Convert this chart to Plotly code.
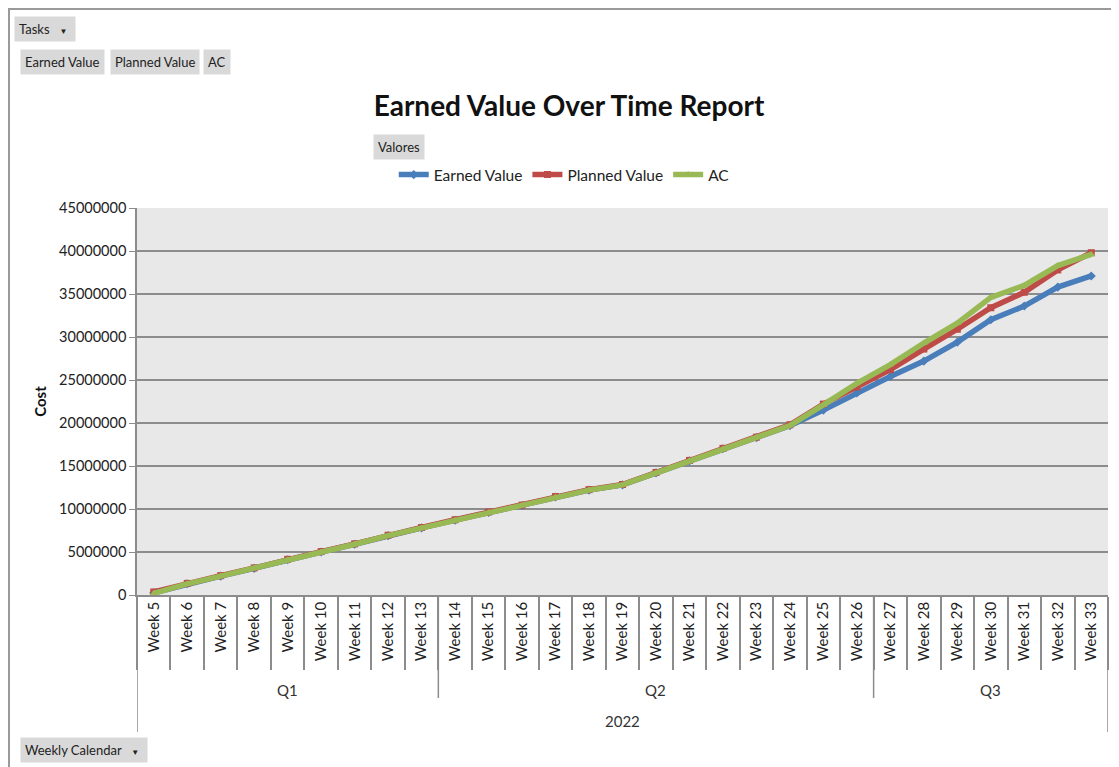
"""
Earned Value Over Time Report - pivot chart recreation
"""

import plotly.graph_objects as go

# ---------------------------
# data
# ---------------------------

weeks = [f"Week {w}" for w in range(5, 34)]

earned_value = [
    0.25, 1.3, 2.2, 3.1, 4.1, 5.0, 5.9, 6.9, 7.8, 8.7,
    9.6, 10.4, 11.4, 12.2, 12.8, 14.2, 15.6, 17.0, 18.3, 19.7,
    21.5, 23.5, 25.4, 27.2, 29.4, 32.0, 33.6, 35.8, 37.1,
]
planned_value = [
    0.35, 1.35, 2.25, 3.15, 4.15, 5.05, 5.95, 6.95, 7.85, 8.75,
    9.65, 10.45, 11.45, 12.25, 12.85, 14.25, 15.65, 17.05, 18.35, 19.8,
    22.2, 24.2, 26.2, 28.6, 30.9, 33.4, 35.2, 37.8, 39.8,
]
actual_cost = [
    0.2, 1.3, 2.2, 3.1, 4.1, 5.0, 5.9, 6.9, 7.8, 8.7,
    9.6, 10.4, 11.4, 12.2, 12.8, 14.2, 15.6, 17.0, 18.3, 19.7,
    22.1, 24.6, 26.8, 29.3, 31.6, 34.6, 36.0, 38.3, 39.6,
]

quarters = ["Q1", "Q2", "Q3"]
quarter_sizes = [9, 13, 7]
year_label = "2022"

y_ticks = list(range(0, 45000001, 5000000))

FONT = "Lato"
GRAY = "#8c8c8c"

# ---------------------------
# series
# ---------------------------

fig = go.Figure()

series = [
    ("Earned Value", earned_value, "#4a7ebb", "diamond"),
    ("Planned Value", planned_value, "#be4b48", "square"),
    ("AC", actual_cost, "#98b954", "triangle-up"),
]

for name, vals, color, symbol in series:
    fig.add_trace(go.Scatter(
        x=weeks,
        y=[v * 1e6 for v in vals],
        mode="lines+markers",
        name=name,
        line=dict(color=color, width=5.5),
        marker=dict(symbol=symbol, size=7, color=color),
    ))

# ---------------------------
# axis decorations (quarters, year, long dividers)
# page coords: plot area left edge 137px, x axis at 595px
# ---------------------------

n = len(weeks)
px_h = 387.0  # plot height in px
px_w = 971.0


def py(px_below):
    # paper y for a pixel distance below the x axis
    return -px_below / px_h


shapes = []
# outer frame
shapes.append(dict(type="rect", xref="paper", yref="paper",
                   x0=(9 - 137) / px_w, x1=(1135 - 137) / px_w,
                   y0=(595 - 790) / px_h, y1=(595 - 9) / px_h,
                   line=dict(color="#9a9a9a", width=2)))
# outer left / right dividers down to the year row
for xb in [-0.5, n - 0.5]:
    shapes.append(dict(type="line", xref="x", yref="paper",
                       x0=xb, x1=xb, y0=0, y1=py(137),
                       line=dict(color=GRAY, width=1.5)))

annotations = []
start = 0
for q, size in zip(quarters, quarter_sizes):
    end = start + size
    if end < n:
        shapes.append(dict(type="line", xref="x", yref="paper",
                           x0=end - 0.5, x1=end - 0.5, y0=0, y1=py(103),
                           line=dict(color=GRAY, width=1.5)))
    annotations.append(dict(x=(start + end - 1) / 2, y=py(95), xref="x", yref="paper",
                            yanchor="middle", text=q, showarrow=False,
                            font=dict(family=FONT, size=15, color="#333333")))
    start = end

annotations.append(dict(x=(n - 1) / 2, y=py(126), xref="x", yref="paper",
                        yanchor="middle", text=year_label, showarrow=False,
                        font=dict(family=FONT, size=15, color="#333333")))

# ---------------------------
# pivot field buttons
# ---------------------------

arrow = "<span style='font-size:8px'>▼</span>"
buttons = [
    ("Tasks   " + arrow + " ", 14, 29),
    ("Earned Value", 20, 62),
    ("Planned Value", 110, 62),
    ("AC", 203, 62),
    ("Valores", 373, 147),
    ("Weekly Calendar   " + arrow + " ", 20, 750),
]
for text, bx, by in buttons:
    annotations.append(dict(
        x=(bx - 137) / px_w, y=(595 - by) / px_h, xref="paper", yref="paper",
        xanchor="left", yanchor="middle", text=text, showarrow=False,
        bgcolor="#d9d9d9", borderpad=4,
        font=dict(family=FONT, size=13, color="#222222"),
    ))

# ---------------------------
# layout
# ---------------------------

fig.update_layout(
    width=1111,
    height=759,
    margin=dict(l=129, r=11, t=200, b=172),
    paper_bgcolor="white",
    plot_bgcolor="#e8e8e8",
    font=dict(family=FONT, size=15, color="#222222"),
    title=dict(
        text="<b>Earned Value Over Time Report</b>",
        x=(569 - 8) / 1111, xanchor="center",
        y=1 - (106 - 8) / 759, yanchor="middle",
        font=dict(family=FONT, size=28, color="#111111"),
    ),
    legend=dict(
        orientation="h", x=0.44, xanchor="center",
        y=(595 - 175) / px_h, yanchor="middle",
        font=dict(family=FONT, size=15.5),
        bgcolor="rgba(0,0,0,0)",
    ),
    shapes=shapes,
    annotations=annotations,
    showlegend=True,
)

fig.update_xaxes(
    type="category",
    range=[-0.5, n - 0.5],
    tickangle=-90,
    ticks="outside",
    tickson="boundaries",
    ticklen=73,
    tickcolor=GRAY,
    tickwidth=1.5,
    ticklabelstandoff=-1,
    showline=True,
    linecolor=GRAY,
    linewidth=1.5,
    showgrid=False,
    tickfont=dict(family=FONT, size=15, color="#222222"),
)

fig.update_yaxes(
    range=[0, 45000000],
    tickvals=y_ticks,
    tickformat="d",
    ticks="outside",
    ticklen=6,
    tickcolor=GRAY,
    showline=True,
    linecolor=GRAY,
    linewidth=1.5,
    showgrid=True,
    gridcolor=GRAY,
    gridwidth=1.5,
    zeroline=False,
    tickfont=dict(family=FONT, size=14.5, color="#222222"),
    title=dict(text="<b>Cost</b>", standoff=9,
               font=dict(family=FONT, size=15, color="#111111")),
)

fig.write_html("out.html")
